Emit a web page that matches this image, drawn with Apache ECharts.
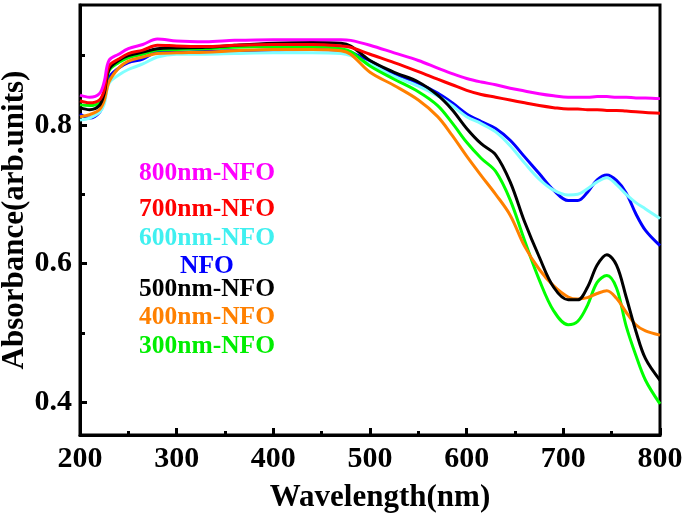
<!DOCTYPE html>
<html>
<head>
<meta charset="utf-8">
<script src="https://cdn.jsdelivr.net/npm/echarts@6/dist/echarts.min.js"></script>
<style>html,body{margin:0;padding:0;background:#fff;}#c{width:685px;height:513px;}</style>
</head>
<body>
<div id="c"></div>
<script>
var wavelengths = [200,210,220,225,230,240,250,265,280,300,330,360,400,440,470,480,500,525,550,570,585,600,615,630,645,660,675,690,705,715,725,735,745,755,765,775,785,800];

var nfo800 = [0.843,0.840,0.845,0.862,0.893,0.902,0.910,0.916,0.924,0.921,0.920,0.922,0.923,0.923,0.923,0.922,0.915,0.904,0.893,0.882,0.874,0.867,0.862,0.858,0.853,0.849,0.845,0.842,0.840,0.840,0.840,0.841,0.841,0.840,0.840,0.839,0.839,0.838];
var nfo700 = [0.835,0.832,0.836,0.850,0.885,0.895,0.903,0.908,0.915,0.914,0.913,0.915,0.916,0.916,0.914,0.912,0.902,0.890,0.877,0.866,0.858,0.850,0.844,0.840,0.836,0.832,0.828,0.825,0.823,0.823,0.822,0.822,0.821,0.821,0.820,0.819,0.818,0.817];
var nfo600 = [0.807,0.810,0.818,0.830,0.860,0.872,0.880,0.888,0.898,0.902,0.902,0.903,0.904,0.904,0.903,0.900,0.888,0.870,0.856,0.842,0.828,0.812,0.802,0.790,0.770,0.745,0.722,0.706,0.699,0.700,0.708,0.718,0.724,0.714,0.700,0.688,0.679,0.665];
var nfo    = [0.816,0.810,0.818,0.835,0.868,0.882,0.890,0.895,0.905,0.905,0.906,0.907,0.908,0.909,0.908,0.905,0.892,0.874,0.860,0.846,0.832,0.816,0.805,0.795,0.778,0.754,0.730,0.706,0.691,0.691,0.703,0.721,0.728,0.720,0.702,0.672,0.648,0.626];
var nfo500 = [0.825,0.822,0.828,0.845,0.880,0.893,0.900,0.905,0.910,0.911,0.912,0.915,0.918,0.919,0.918,0.914,0.893,0.876,0.862,0.843,0.822,0.795,0.773,0.757,0.718,0.660,0.610,0.566,0.548,0.548,0.566,0.598,0.613,0.598,0.552,0.503,0.463,0.432];
var nfo400 = [0.812,0.815,0.822,0.835,0.862,0.882,0.892,0.898,0.903,0.904,0.905,0.907,0.909,0.909,0.907,0.902,0.876,0.857,0.836,0.812,0.785,0.755,0.727,0.700,0.670,0.625,0.592,0.568,0.552,0.549,0.551,0.557,0.561,0.550,0.530,0.512,0.503,0.497];
var nfo300 = [0.829,0.828,0.832,0.845,0.878,0.890,0.897,0.902,0.908,0.909,0.910,0.912,0.913,0.913,0.910,0.906,0.885,0.866,0.848,0.828,0.803,0.775,0.752,0.733,0.692,0.633,0.577,0.532,0.512,0.517,0.540,0.573,0.583,0.565,0.510,0.468,0.432,0.398];

var seriesNames = ['800nm-NFO','700nm-NFO','600nm-NFO','NFO','500nm-NFO','400nm-NFO','300nm-NFO'];
var seriesColors = ['#ff00ff','#ff0000','#80ffff','#0000ff','#000000','#ff8000','#00ff00'];
var textColors = ['#ff00ff','#ff0000','#40f0f0','#0000ff','#000000','#ff8000','#00ee00'];
var seriesValues = [nfo800, nfo700, nfo600, nfo, nfo500, nfo400, nfo300];
var drawOrder = [3, 2, 6, 5, 4, 1, 0];

var yLabelTicks = [0.4, 0.6, 0.8];
var yMinorTicks = [0.5, 0.7, 0.9];
var legendY = [173, 209, 238, 266, 289, 317, 346];

var FONT = 'Liberation Serif';

function pairs(vals) {
  return wavelengths.map(function (w, i) { return [w, vals[i]]; });
}

var series = drawOrder.map(function (k) {
  return {
    name: seriesNames[k],
    type: 'line',
    data: pairs(seriesValues[k]),
    showSymbol: false,
    smooth: 0.35,
    lineStyle: { color: seriesColors[k], width: 3 },
    itemStyle: { color: seriesColors[k] },
    silent: true,
    animation: false
  };
});

var graphics = seriesNames.map(function (n, i) {
  return {
    type: 'text',
    x: 207,
    y: legendY[i],
    style: {
      text: n,
      fill: textColors[i],
      font: 'bold 25.5px "' + FONT + '"',
      textAlign: 'center',
      textVerticalAlign: 'middle'
    }
  };
});

var chart = echarts.init(document.getElementById('c'), null, { renderer: 'canvas' });
chart.setOption({
  animation: false,
  backgroundColor: '#ffffff',
  grid: { left: 80, right: 25, top: 5, bottom: 78, containLabel: false, outerBoundsMode: 'none',
    show: true, borderColor: '#000', borderWidth: 3, backgroundColor: 'transparent' },
  xAxis: {
    type: 'value', min: 200, max: 800, interval: 100,
    name: 'Wavelength(nm)', nameLocation: 'middle', nameGap: 47, nameMoveOverlap: false,
    nameTextStyle: { fontFamily: FONT, fontWeight: 'bold', fontSize: 31, color: '#000', padding: [0, 0, 0, 20] },
    axisLine: { show: true, lineStyle: { color: '#000', width: 3 } },
    axisTick: { show: true, inside: true, length: 7, lineStyle: { color: '#000', width: 3 } },
    minorTick: { show: true, splitNumber: 2, length: 4, lineStyle: { color: '#000', width: 3 } },
    axisLabel: { fontFamily: FONT, fontWeight: 'bold', fontSize: 30, color: '#000', margin: 9 },
    splitLine: { show: false }
  },
  yAxis: [{
    type: 'value', min: 0.353, max: 0.973,
    name: 'Absorbance(arb.units)', nameLocation: 'middle', nameGap: 50, nameMoveOverlap: false,
    nameTextStyle: { fontFamily: FONT, fontWeight: 'bold', fontSize: 31, color: '#000' },
    axisLine: { show: true, lineStyle: { color: '#000', width: 3 } },
    axisTick: { show: true, inside: true, length: 7, customValues: yLabelTicks, lineStyle: { color: '#000', width: 3 } },
    axisLabel: { customValues: yLabelTicks, fontFamily: FONT, fontWeight: 'bold', fontSize: 30, color: '#000', margin: 8,
      formatter: function (v) { return Number(v).toFixed(1); } },
    splitLine: { show: false }
  }, {
    type: 'value', min: 0.353, max: 0.973, position: 'left',
    axisLine: { show: false },
    axisTick: { show: true, inside: true, length: 5, customValues: yMinorTicks, lineStyle: { color: '#000', width: 3 } },
    axisLabel: { show: false },
    splitLine: { show: false }
  }],
  graphic: graphics,
  series: series
});
</script>
</body>
</html>
